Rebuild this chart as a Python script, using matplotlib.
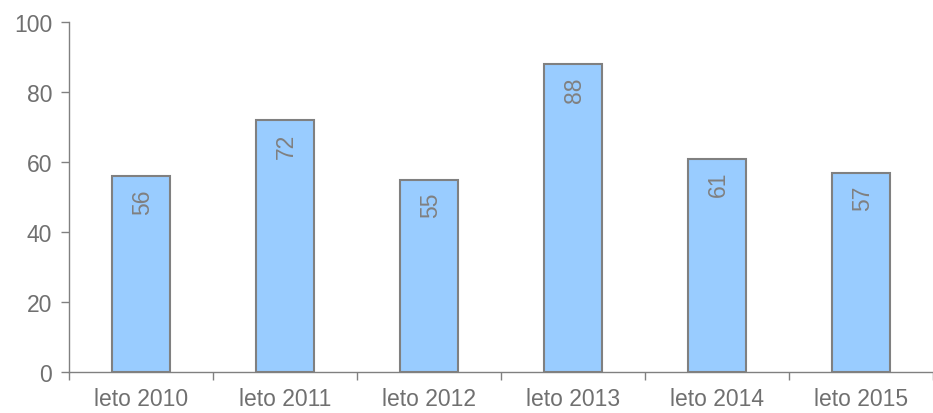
import matplotlib
matplotlib.use('Agg')
import matplotlib.pyplot as plt
import numpy as np

categories = ['leto 2010', 'leto 2011', 'leto 2012', 'leto 2013', 'leto 2014', 'leto 2015']
values = [56, 72, 55, 88, 61, 57]

plt.rcParams['font.family'] = ['Liberation Sans', 'DejaVu Sans']

fig = plt.figure(figsize=(9.33, 4.14), dpi=100)
ax = fig.add_axes([69 / 933, 41 / 414, 864 / 933, 350 / 414])

x = np.arange(len(categories))
ax.bar(x, values, width=0.4, color='#99ccff', edgecolor='#808080', linewidth=1.5, zorder=2)

for xi, v in zip(x, values):
    ax.annotate(str(v), (xi, v), xytext=(1, -9), textcoords='offset points',
                rotation=90, ha='center', va='top', fontsize=16.5, color='#808080')

ax.set_xlim(-0.5, len(categories) - 0.5)
ax.set_ylim(0, 100)
ax.set_yticks(range(0, 101, 20))
ax.set_xticks(x)
ax.set_xticklabels(categories)
ax.set_xticks(np.arange(-0.5, len(categories), 1.0), minor=True)
ax.tick_params(axis='x', which='major', length=0, pad=11, labelsize=16.5, labelcolor='#707070')
ax.tick_params(axis='x', which='minor', length=6, width=1, color='#808080', direction='out')
ax.tick_params(axis='y', length=6, width=1, color='#808080', labelsize=16.5, labelcolor='#707070', pad=6)

for side in ['top', 'right']:
    ax.spines[side].set_visible(False)
for side in ['left', 'bottom']:
    ax.spines[side].set_color('#808080')
    ax.spines[side].set_linewidth(1)

fig.savefig('out.png', dpi=100)
